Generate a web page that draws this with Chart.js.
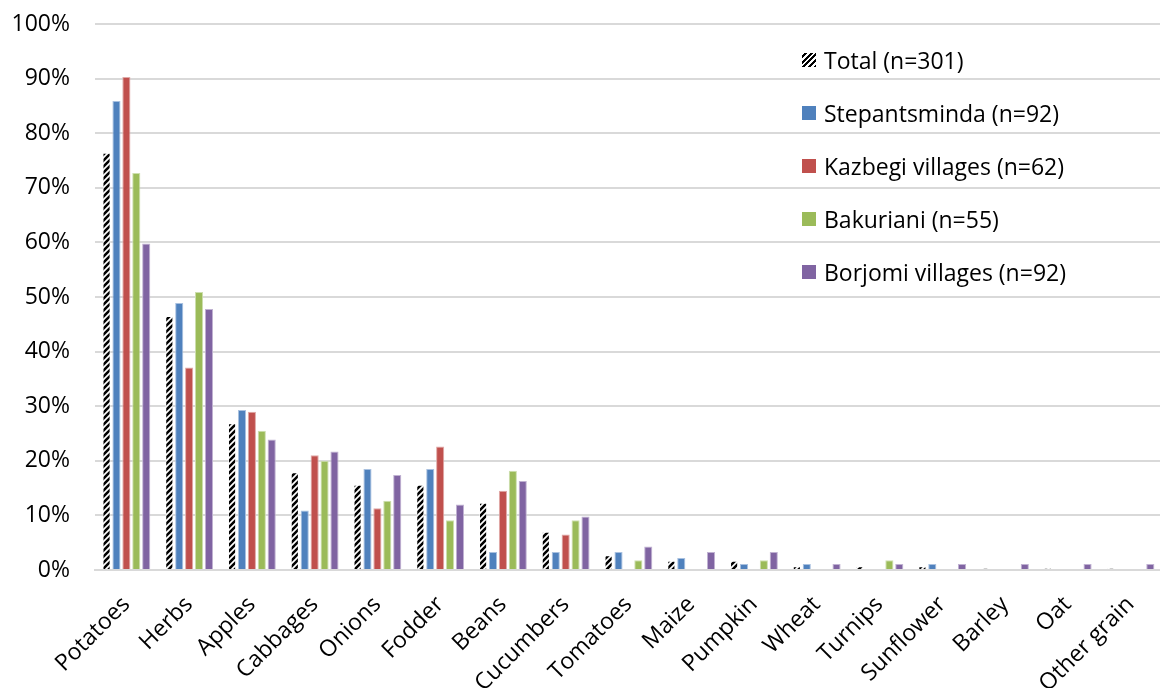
<!DOCTYPE html>
<html>
<head>
<meta charset="utf-8">
<script src="https://cdn.jsdelivr.net/npm/chart.js@4.4.1/dist/chart.umd.min.js"></script>
<style>
  html, body { margin: 0; padding: 0; background: #fff; overflow: hidden; }
  body { width: 1160px; height: 688px; position: relative; font-family: "Open Sans", sans-serif; }
  #wrap { position: absolute; left: 0; top: 0; width: 1171px; height: 688px; }
  #legend { position: absolute; left: 802px; top: 34px; }
  .item { height: 52.8px; display: flex; align-items: center; font-size: 23px; color: #000; white-space: nowrap; }
  .box { width: 14px; height: 14px; margin-right: 8px; flex: none; }
</style>
</head>
<body>
<div id="wrap"><canvas id="grafico"></canvas></div>
<div id="legend"></div>
<script>
// Dados (percentagens)
const categorias = ["Potatoes", "Herbs", "Apples", "Cabbages", "Onions", "Fodder", "Beans", "Cucumbers",
  "Tomatoes", "Maize", "Pumpkin", "Wheat", "Turnips", "Sunflower", "Barley", "Oat", "Other grain"];
const total = [76.4, 46.5, 26.9, 17.9, 15.6, 15.6, 12.3, 7.0, 2.7, 1.7, 1.7, 0.7, 0.7, 0.7, 0.3, 0.3, 0.3];
const stepantsminda = [85.9, 48.9, 29.3, 10.9, 18.5, 18.5, 3.3, 3.3, 3.3, 2.2, 1.1, 1.1, 0, 1.1, 0, 0, 0];
const kazbegi = [90.3, 37.1, 29.0, 21.0, 11.3, 22.6, 14.5, 6.5, 0, 0, 0, 0, 0, 0, 0, 0, 0];
const bakuriani = [72.7, 50.9, 25.5, 20.0, 12.7, 9.1, 18.2, 9.1, 1.8, 0, 1.8, 0, 1.8, 0, 0, 0, 0];
const borjomi = [59.8, 47.8, 23.9, 21.7, 17.4, 12.0, 16.3, 9.8, 4.3, 3.3, 3.3, 1.1, 1.1, 1.1, 1.1, 1.1, 1.1];
const rotulos = ["Total (n=301)", "Stepantsminda (n=92)", "Kazbegi villages (n=62)", "Bakuriani (n=55)", "Borjomi villages (n=92)"];
const cores = ["#000000", "#4F81BD", "#C0504D", "#9BBB59", "#8064A2"];
const ticksY = [0, 10, 20, 30, 40, 50, 60, 70, 80, 90, 100];

// Padrão listrado para a barra do total
function criarPadrao() {
    var c = document.createElement("canvas");
    c.width = 6; c.height = 6;
    var g = c.getContext("2d");
    g.fillStyle = "#fff";
    g.fillRect(0, 0, 6, 6);
    g.strokeStyle = "#000";
    g.lineWidth = 2.6;
    g.beginPath();
    g.moveTo(-3, 3); g.lineTo(3, -3);
    g.moveTo(0, 6); g.lineTo(6, 0);
    g.moveTo(3, 9); g.lineTo(9, 3);
    g.stroke();
    return c;
}
var tile = criarPadrao();
var ctx = document.getElementById("grafico").getContext("2d");
var padrao = ctx.createPattern(tile, "repeat");

const series = [total, stepantsminda, kazbegi, bakuriani, borjomi];
const bordas = ["rgba(255,255,255,0.5)", "#a9c1e0", "#e0a9a7", "#cddfae", "#c0b2d2"];

const datasets = series.map(function (s, i) {
    return {
        label: rotulos[i],
        data: s,
        backgroundColor: i === 0 ? padrao : cores[i],
        borderColor: bordas[i],
        borderWidth: 1,
        categoryPercentage: 0.79,
        barPercentage: 0.82
    };
});

new Chart(ctx, {
    type: "bar",
    data: { labels: categorias, datasets: datasets },
    options: {
        responsive: true,
        maintainAspectRatio: false,
        animation: false,
        layout: { padding: { top: 24, right: 0, left: 0, bottom: 0 } },
        plugins: { legend: { display: false }, tooltip: { enabled: false } },
        scales: {
            x: {
                grid: { display: false, drawTicks: false },
                border: { color: "#d9d9d9", width: 2 },
                ticks: {
                    color: "#000",
                    font: { family: "Open Sans", size: 23 },
                    maxRotation: 45,
                    minRotation: 45,
                    autoSkip: false,
                    padding: 21
                },
                afterFit: function (scale) { scale.height = 118; }
            },
            y: {
                min: 0,
                max: 100,
                afterBuildTicks: function (scale) {
                    scale.ticks = ticksY.map(function (v) { return { value: v }; });
                },
                grid: { color: "#d9d9d9", lineWidth: 2, drawTicks: true, tickLength: 25, tickColor: "rgba(0,0,0,0)" },
                border: { display: false },
                ticks: {
                    color: "#000",
                    font: { family: "Open Sans", size: 23 },
                    padding: 0,
                    callback: function (v) { return v + "%"; }
                },
                afterFit: function (scale) { scale.width = 95; }
            }
        }
    }
});

// Legenda em HTML
var legenda = document.getElementById("legend");
legenda.innerHTML = rotulos.map(function (r, i) {
    var fundo = i === 0
        ? "background: repeating-linear-gradient(-45deg, #000 0 2px, #fff 2px 4px);"
        : "background:" + cores[i] + ";";
    return '<div class="item"><span class="box" style="' + fundo + '"></span>' + r + '</div>';
}).join("");
</script>
</body>
</html>
